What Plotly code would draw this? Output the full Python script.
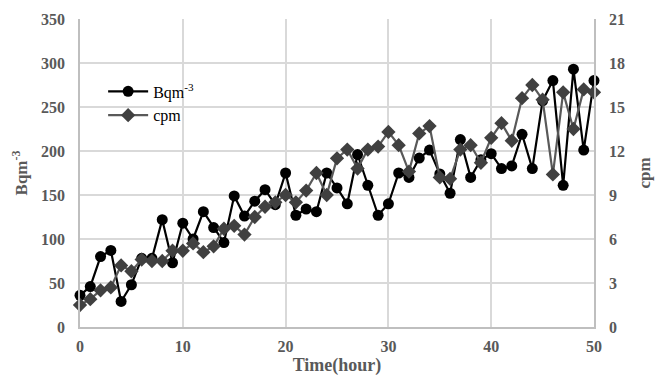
import plotly.graph_objects as go

hours = list(range(0, 51))
bq = [36, 46, 80, 87, 29, 48, 78, 78, 122, 73, 118, 100, 131, 113, 96, 149, 126, 143, 156, 139,
      175, 127, 134, 131, 175, 158, 140, 196, 161, 127, 140, 175, 170, 192, 201, 174, 152, 213, 170, 190,
      197, 180, 183, 219, 180, 257, 280, 161, 293, 201, 280]
cpm = [1.5, 1.9, 2.5, 2.7, 4.2, 3.8, 4.6, 4.5, 4.5, 5.2, 5.2, 5.7, 5.1, 5.5, 6.7, 6.9, 6.3, 7.5, 8.2, 8.5,
       9.0, 8.5, 9.3, 10.5, 9.0, 11.5, 12.1, 10.8, 12.1, 12.3, 13.3, 12.4, 10.6, 13.2, 13.7, 10.2, 10.1, 12.1, 12.4, 11.2,
       12.9, 13.9, 12.7, 15.6, 16.5, 15.5, 10.4, 16.0, 13.5, 16.2, 16.0]

font_family = "Liberation Serif, Times New Roman, serif"
grey = "#595959"

fig = go.Figure()
fig.add_trace(go.Scatter(
    x=hours, y=bq, name="Bqm<sup>-3</sup>",
    mode="lines+markers", cliponaxis=False,
    line=dict(color="black", width=2.2),
    marker=dict(symbol="circle", size=11, color="black"),
))
fig.add_trace(go.Scatter(
    x=hours, y=cpm, name="cpm", yaxis="y2",
    mode="lines+markers", cliponaxis=False,
    line=dict(color="#595959", width=2.2),
    marker=dict(symbol="diamond", size=11, color="#404040"),
))

fig.update_layout(
    width=664, height=381,
    margin=dict(l=80, r=70, t=19, b=54),
    paper_bgcolor="white", plot_bgcolor="white",
    font=dict(family=font_family, size=15, color=grey),
    showlegend=True,
    legend=dict(
        x=0.045, y=0.82, xanchor="left", yanchor="top",
        bgcolor="rgba(0,0,0,0)",
        font=dict(family=font_family, size=16, color="black"),
        tracegroupgap=0, itemwidth=40,
    ),
    xaxis=dict(
        range=[0, 50], tickvals=[0, 10, 20, 30, 40, 50], automargin=False,
        showgrid=True, gridcolor="#d9d9d9", gridwidth=1.5,
        showline=True, linecolor="#bfbfbf", linewidth=1.5,
        ticks="", zeroline=False, ticklabelstandoff=4,
        tickfont=dict(family=font_family, size=16, color=grey, weight="bold"),
        title=dict(text="<b>Time(hour)</b>", font=dict(family=font_family, size=18, color=grey), standoff=0),
    ),
    yaxis=dict(
        range=[0, 350], tickvals=[0, 50, 100, 150, 200, 250, 300, 350], automargin=False,
        showgrid=True, gridcolor="#d9d9d9", gridwidth=1.5,
        showline=True, linecolor="#bfbfbf", linewidth=1.5,
        zeroline=False, ticks="", ticklabelstandoff=10,
        tickfont=dict(family=font_family, size=16, color=grey, weight="bold"),
        title=dict(text="<b>Bqm<sup>-3</sup></b>", font=dict(family=font_family, size=17, color=grey), standoff=9),
    ),
    yaxis2=dict(
        range=[0, 21], tickvals=[0, 3, 6, 9, 12, 15, 18, 21], automargin=False,
        overlaying="y", side="right",
        showgrid=False, showline=True, linecolor="#bfbfbf", linewidth=1.5,
        zeroline=False, ticks="", ticklabelstandoff=10,
        tickfont=dict(family=font_family, size=16, color=grey, weight="bold"),
        title=dict(text="<b>cpm</b>", font=dict(family=font_family, size=17, color=grey), standoff=14),
    ),
)

fig.write_html("out.html", config={"displayModeBar": False},
               post_script="document.body.style.margin='0';document.body.style.overflow='hidden';")
